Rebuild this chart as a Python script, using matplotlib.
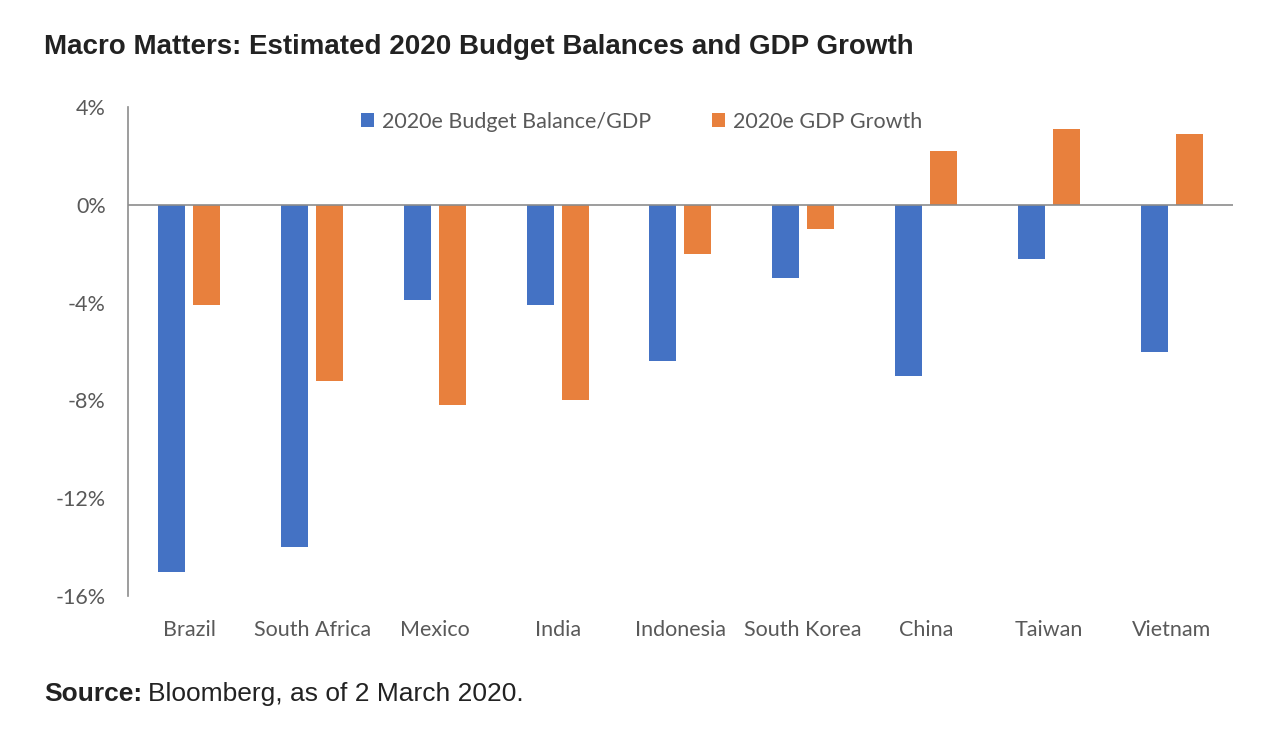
import matplotlib.pyplot as plt
import numpy as np

countries = ["Brazil", "South Africa", "Mexico", "India", "Indonesia",
             "South Korea", "China", "Taiwan", "Vietnam"]
budget = [-15.0, -14.0, -3.9, -4.1, -6.4, -3.0, -7.0, -2.2, -6.0]
gdp = [-4.1, -7.2, -8.2, -8.0, -2.0, -1.0, 2.2, 3.1, 2.9]
yticks = [4, 0, -4, -8, -12, -16]

blue = "#4472C4"
orange = "#E8803D"
grey = "#595959"

fig = plt.figure(figsize=(12.72, 7.37), dpi=100)
ax = fig.add_axes([0.1006, 0.1913, 0.8687, 0.6635])

x = np.arange(len(countries))
w = 0.22
off = 0.1425
ax.bar(x - off, budget, w, color=blue, label="2020e Budget Balance/GDP")
ax.bar(x + off, gdp, w, color=orange, label="2020e GDP Growth")

ax.set_xlim(-0.5, len(countries) - 0.5)
ax.set_ylim(-16, 4)
ax.axhline(0, color="#8c8c8c", lw=1.2)

ax.set_yticks(yticks)
ax.set_yticklabels([f"{t}%" for t in yticks])
ax.set_xticks(x)
ax.set_xticklabels(countries)
ax.tick_params(length=0, labelcolor=grey, labelsize=15.5)
ax.tick_params(axis="y", pad=16)
ax.tick_params(axis="x", pad=17)
for lab in ax.get_xticklabels() + ax.get_yticklabels():
    lab.set_family("Lato")

for s in ["top", "right", "bottom"]:
    ax.spines[s].set_visible(False)
ax.spines["left"].set_color("#8c8c8c")
ax.spines["left"].set_linewidth(1.2)

ax.legend(loc="upper center", bbox_to_anchor=(0.465, 1.03), ncol=2, frameon=False,
          prop={"family": "Lato", "size": 15.5}, labelcolor=grey,
          handlelength=0.6, handleheight=0.6, handletextpad=0.4, columnspacing=2.8)

fig.text(0.0346, 0.936, "Macro Matters: Estimated 2020 Budget Balances and GDP Growth",
         family="Liberation Sans", weight="bold", size=20, color="#222222", va="center")
t = fig.text(0.0346, 0.058, "Source:", family="Liberation Sans", weight="bold",
             size=19, color="#222222", va="center")
fig.canvas.draw()
bb = t.get_window_extent()
fig.text(bb.x1 / fig.bbox.width + 0.005, 0.058, "Bloomberg, as of 2 March 2020.",
         family="Liberation Sans", size=19, color="#222222", va="center")

fig.savefig("out.png", dpi=100)
